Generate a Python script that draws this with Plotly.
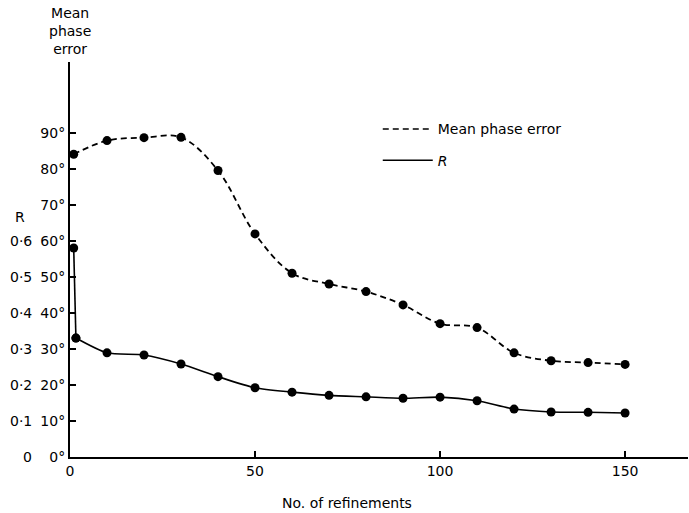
import plotly.graph_objects as go

# ---- data ----
phase_x = [1, 10, 20, 30, 40, 50, 60, 70, 80, 90, 100, 110, 120, 130, 140, 150]
phase_err = [84.0, 87.8, 88.6, 88.7, 79.5, 61.9, 51.0, 48.0, 45.9, 42.2, 37.0, 35.9, 28.9, 26.7, 26.2, 25.7]

r_x = [1, 1.6, 10, 20, 30, 40, 50, 60, 70, 80, 90, 100, 110, 120, 130, 140, 150]
r_vals = [0.58, 0.33, 0.289, 0.283, 0.258, 0.223, 0.192, 0.18, 0.171, 0.167, 0.163, 0.166,
          0.156, 0.133, 0.125, 0.124, 0.122]
R_TO_DEG = 100  # 0.1 in R corresponds to 10 degrees on the shared axis

deg_ticks = [0, 10, 20, 30, 40, 50, 60, 70, 80, 90]
deg_labels = [f"{d}°" for d in deg_ticks]
r_ticks = [0, 0.1, 0.2, 0.3, 0.4, 0.5, 0.6]
r_labels = ["0", "0·1", "0·2", "0·3", "0·4", "0·5", "0·6"]
x_ticks = [0, 50, 100, 150]

FONT = "DejaVu Sans"

r_deg = [v * R_TO_DEG for v in r_vals]

fig = go.Figure()

fig.add_trace(go.Scatter(
    x=phase_x, y=phase_err, mode="lines+markers", showlegend=False,
    line=dict(color="black", width=1.8, dash="6px,4px", shape="spline", smoothing=1.0),
    marker=dict(size=9, color="black"),
))
# steep initial drop of R (straight), then smooth curve for the rest
fig.add_trace(go.Scatter(
    x=r_x[:2], y=r_deg[:2], mode="lines+markers", showlegend=False,
    line=dict(color="black", width=1.6),
    marker=dict(size=9, color="black"),
))
fig.add_trace(go.Scatter(
    x=r_x[1:], y=r_deg[1:], mode="lines+markers", showlegend=False,
    line=dict(color="black", width=1.6, shape="spline", smoothing=0.7),
    marker=dict(size=9, color="black"),
))
# legend entries (lines only)
fig.add_trace(go.Scatter(x=[None], y=[None], mode="lines", name="Mean phase error",
                         legendgroup="a",
                         line=dict(color="black", width=1.5, dash="6px,4px")))
fig.add_trace(go.Scatter(x=[None], y=[None], mode="lines", name="<i>R</i>",
                         legendgroup="b",
                         line=dict(color="black", width=1.5)))

annotations = []
for v, lab in zip(r_ticks, r_labels):
    annotations.append(dict(x=0, xref="paper", y=v * R_TO_DEG, yref="y", text=lab,
                            showarrow=False, xanchor="right", yanchor="middle",
                            xshift=-36, font=dict(family=FONT, size=14, color="black")))
annotations.append(dict(x=0, xref="paper", y=66.5, yref="y", text="R", showarrow=False,
                        xanchor="center", yanchor="middle", xshift=-50,
                        font=dict(family=FONT, size=14, color="black")))
annotations.append(dict(x=0, xref="paper", y=1, yref="paper", text="Mean<br>phase<br>error",
                        showarrow=False, xanchor="center", yanchor="bottom", yshift=3,
                        font=dict(family=FONT, size=14, color="black")))
annotations.append(dict(x=0.448, xref="paper", y=0, yref="paper", text="No. of refinements",
                        showarrow=False, xanchor="center", yanchor="middle", yshift=-46,
                        font=dict(family=FONT, size=14, color="black")))

fig.update_layout(
    width=689, height=513,
    margin=dict(l=70, r=1, t=62, b=56),
    paper_bgcolor="white", plot_bgcolor="white",
    font=dict(family=FONT, size=14, color="black"),
    xaxis=dict(range=[0, 167], showline=True, linewidth=2, linecolor="black",
               ticks="inside", ticklen=6, tickwidth=1.5, tickcolor="black",
               tickvals=x_ticks, showgrid=False, zeroline=False,
               tickfont=dict(family=FONT, size=14, color="black")),
    yaxis=dict(range=[0, 109.6], showline=True, linewidth=2, linecolor="black",
               ticks="inside", ticklen=6, tickwidth=1.5, tickcolor="black",
               tickvals=deg_ticks, ticktext=deg_labels, showgrid=False, zeroline=False,
               tickfont=dict(family=FONT, size=14, color="black")),
    legend=dict(x=0.498, y=0.87, xanchor="left", yanchor="top", bgcolor="rgba(0,0,0,0)",
                itemwidth=50, tracegroupgap=10,
                font=dict(family=FONT, size=14, color="black")),
    annotations=annotations,
)

fig.write_html("out.html")
